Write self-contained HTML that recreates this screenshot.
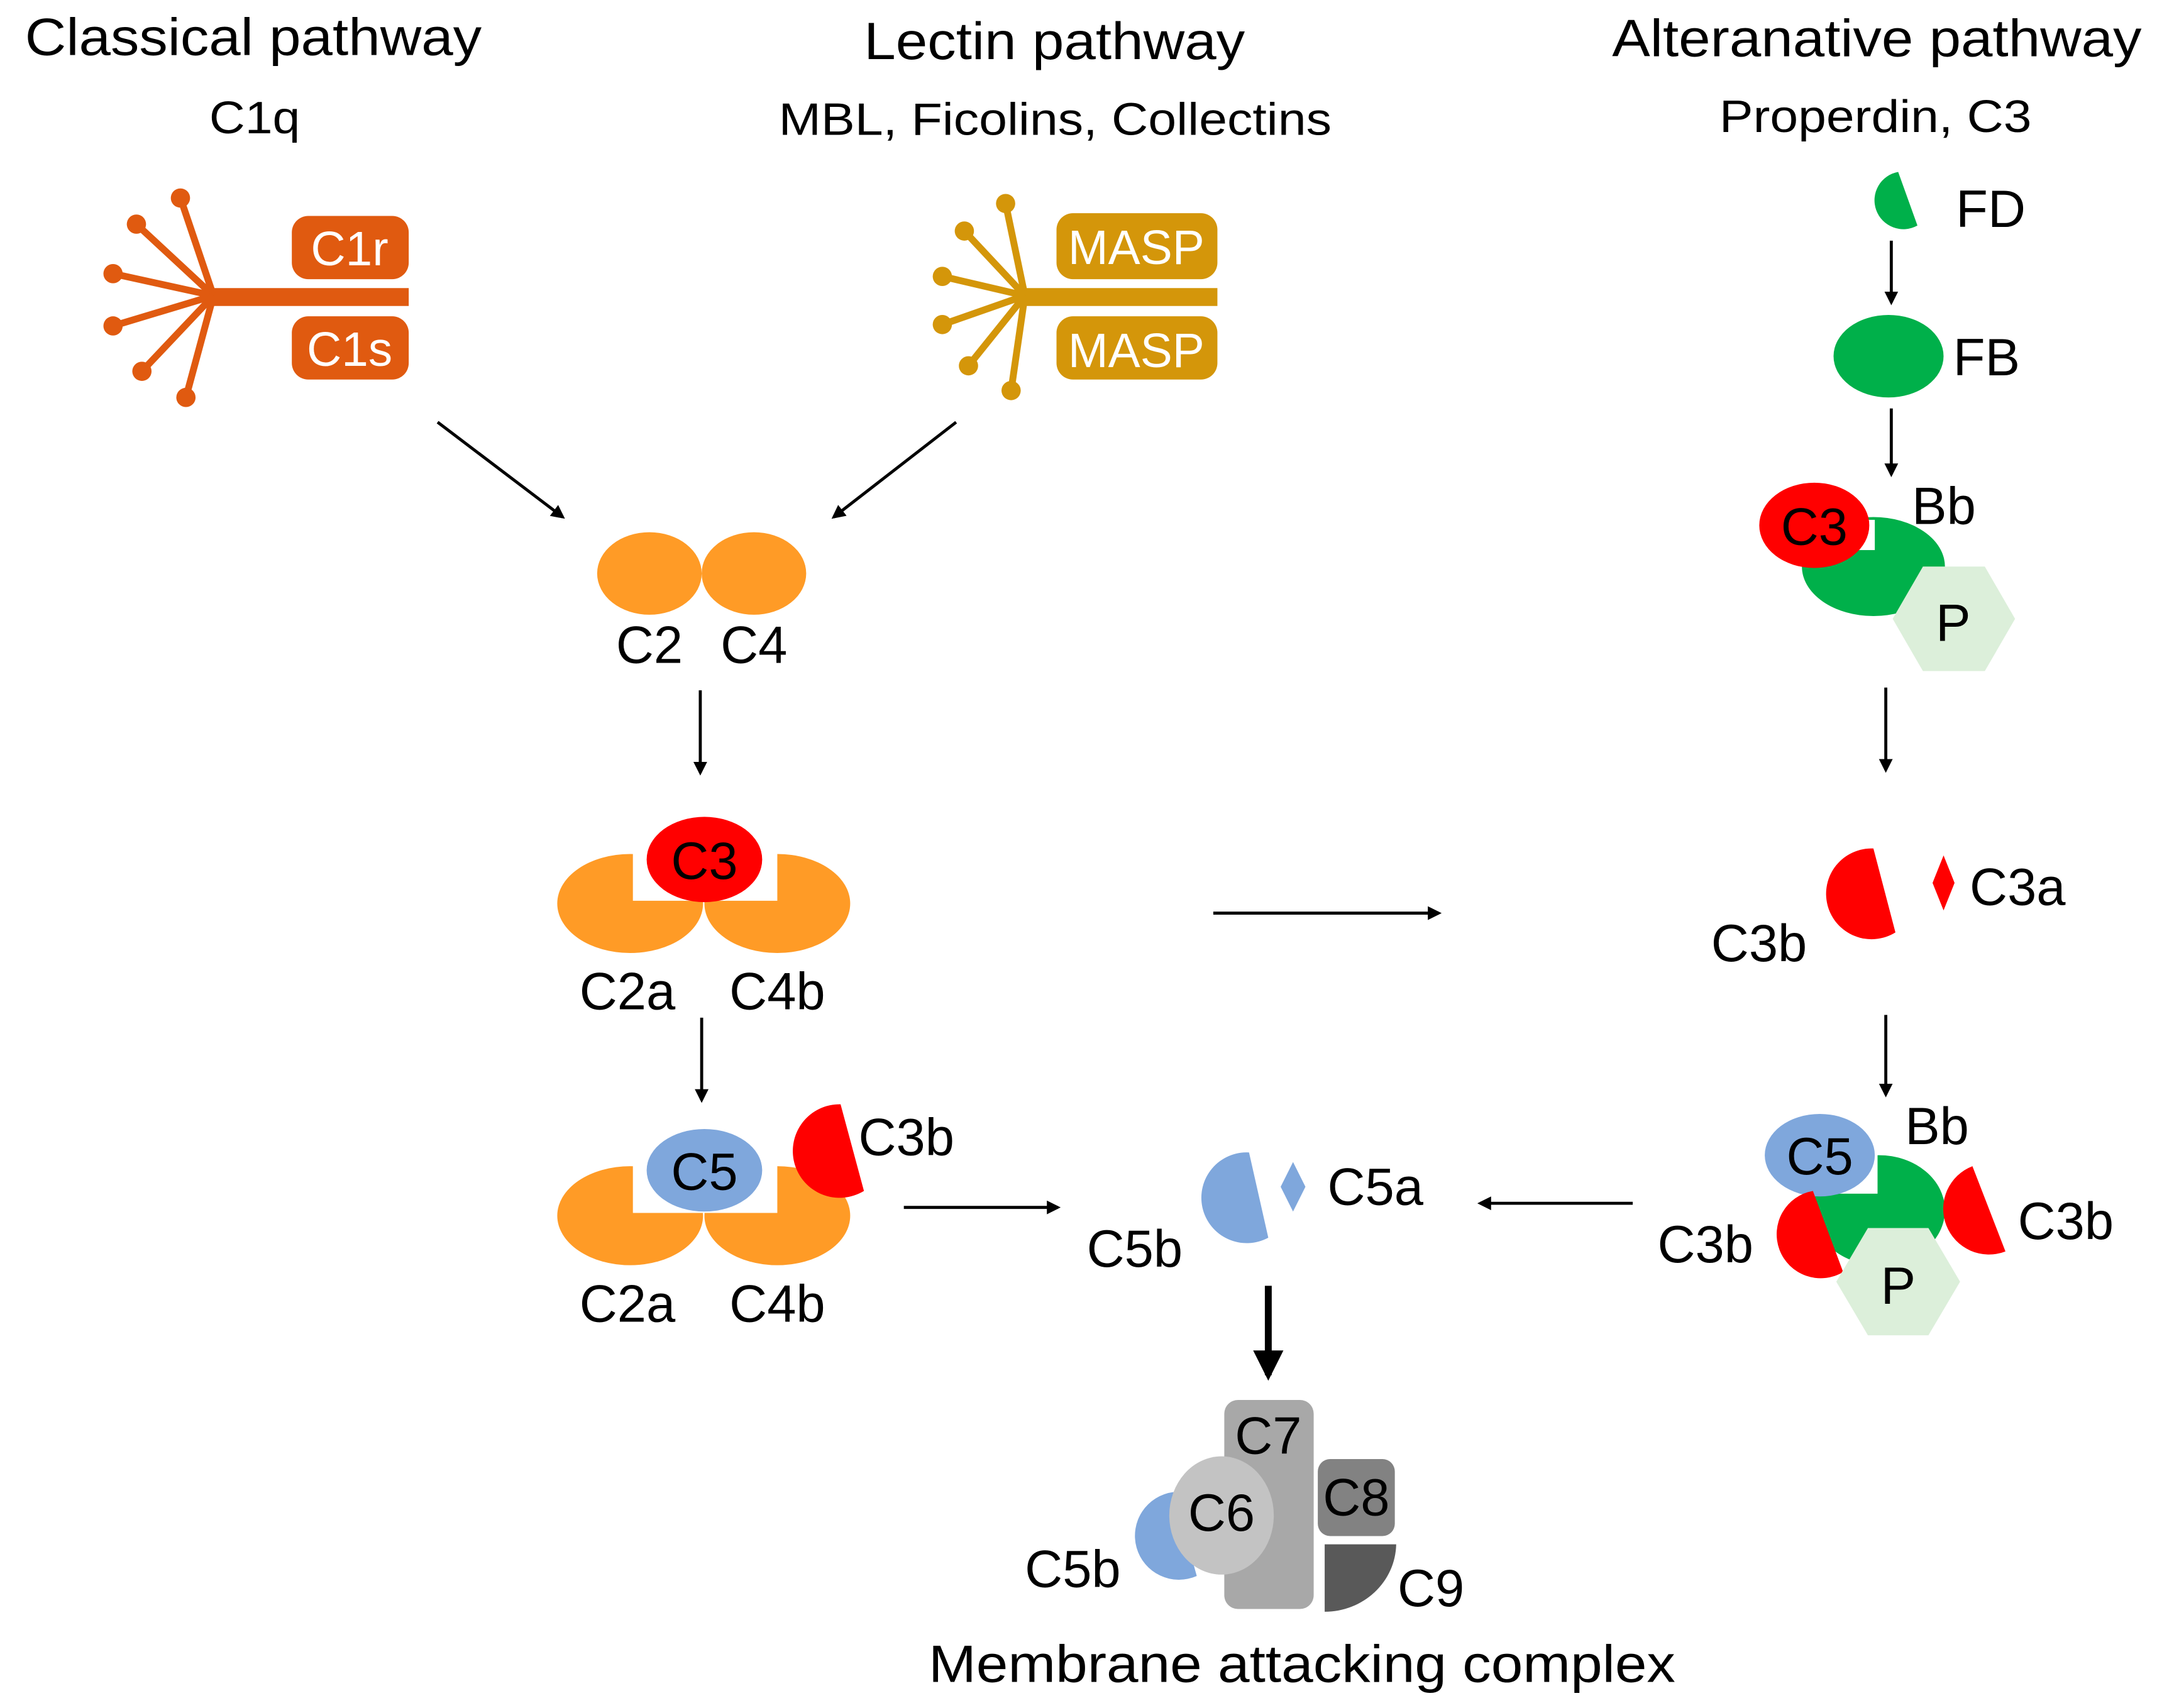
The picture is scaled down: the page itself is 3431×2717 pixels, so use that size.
<!DOCTYPE html>
<html><head><meta charset="utf-8"><style>html,body{margin:0;padding:0;background:#fff}svg{display:block}text{font-family:"Liberation Sans",Arial,sans-serif}</style></head>
<body>
<svg width="3431" height="2717" viewBox="0 0 1568 1242" xmlns="http://www.w3.org/2000/svg">
<defs>
<marker id="ah" markerWidth="10" markerHeight="10" refX="8" refY="5" orient="auto" markerUnits="userSpaceOnUse"><path d="M0,0 L10,5 L0,10 Z" fill="#000"/></marker>
<marker id="ahb" markerWidth="22" markerHeight="22" refX="18" refY="11" orient="auto" markerUnits="userSpaceOnUse"><path d="M0,0 L22,11 L0,22 Z" fill="#000"/></marker>
</defs>
<rect width="1568" height="1242" fill="#fff"/>
<!-- Titles -->
<g fill="#000">
<text x="18" y="40" font-size="38" textLength="332" lengthAdjust="spacingAndGlyphs">Classical pathway</text>
<text x="152" y="97" font-size="33" textLength="66" lengthAdjust="spacingAndGlyphs">C1q</text>
<text x="628" y="43" font-size="38" textLength="277" lengthAdjust="spacingAndGlyphs">Lectin pathway</text>
<text x="566" y="98" font-size="33" textLength="402" lengthAdjust="spacingAndGlyphs">MBL, Ficolins, Collectins</text>
<text x="1172" y="41" font-size="38" textLength="385" lengthAdjust="spacingAndGlyphs">Alteranative pathway</text>
<text x="1250" y="96" font-size="33" textLength="227" lengthAdjust="spacingAndGlyphs">Properdin, C3</text>
</g>
<!-- C1q -->
<g stroke="#E05A10" stroke-width="5" fill="#E05A10">
<line x1="150" y1="216" x2="297" y2="216" stroke-width="13"/>
<line x1="155" y1="215" x2="131" y2="144"/><line x1="155" y1="215" x2="99" y2="163"/><line x1="155" y1="215" x2="82" y2="199"/>
<line x1="155" y1="215" x2="82" y2="237"/><line x1="155" y1="215" x2="103" y2="270"/><line x1="155" y1="215" x2="135" y2="289"/>
<circle cx="131" cy="144" r="7" stroke="none"/><circle cx="99" cy="163" r="7" stroke="none"/><circle cx="82" cy="199" r="7" stroke="none"/>
<circle cx="82" cy="237" r="7" stroke="none"/><circle cx="103" cy="270" r="7" stroke="none"/><circle cx="135" cy="289" r="7" stroke="none"/>
</g>
<rect x="212" y="157" width="85" height="46" rx="12" fill="#E05A10"/>
<rect x="212" y="230" width="85" height="46" rx="12" fill="#E05A10"/>
<text x="254" y="193" font-size="35" fill="#fff" text-anchor="middle">C1r</text>
<text x="254" y="266" font-size="35" fill="#fff" text-anchor="middle">C1s</text>
<!-- Lectin -->
<g stroke="#D4960A" stroke-width="5" fill="#D4960A">
<line x1="740" y1="216" x2="885" y2="216" stroke-width="13"/>
<line x1="745" y1="215" x2="731" y2="148"/><line x1="745" y1="215" x2="701" y2="168"/><line x1="745" y1="215" x2="685" y2="201"/>
<line x1="745" y1="215" x2="685" y2="236"/><line x1="745" y1="215" x2="704" y2="266"/><line x1="745" y1="215" x2="735" y2="284"/>
<circle cx="731" cy="148" r="7" stroke="none"/><circle cx="701" cy="168" r="7" stroke="none"/><circle cx="685" cy="201" r="7" stroke="none"/>
<circle cx="685" cy="236" r="7" stroke="none"/><circle cx="704" cy="266" r="7" stroke="none"/><circle cx="735" cy="284" r="7" stroke="none"/>
</g>
<rect x="768" y="155" width="117" height="48" rx="12" fill="#D4960A"/>
<rect x="768" y="230" width="117" height="46" rx="12" fill="#D4960A"/>
<text x="826" y="192" font-size="35" fill="#fff" text-anchor="middle">MASP</text>
<text x="826" y="267" font-size="35" fill="#fff" text-anchor="middle">MASP</text>
<!-- arrows -->
<g stroke="#000" stroke-width="2.2" marker-end="url(#ah)">
<line x1="318" y1="307" x2="409" y2="376"/>
<line x1="695" y1="307" x2="606" y2="376"/>
<line x1="509" y1="502" x2="509" y2="562"/>
<line x1="510" y1="740" x2="510" y2="800"/>
<line x1="657" y1="878" x2="769" y2="878"/>
<line x1="882" y1="664" x2="1046" y2="664"/>
<line x1="1187" y1="875" x2="1076" y2="875"/>
<line x1="1375" y1="175" x2="1375" y2="220"/>
<line x1="1375" y1="297" x2="1375" y2="345"/>
<line x1="1371" y1="500" x2="1371" y2="560"/>
<line x1="1371" y1="738" x2="1371" y2="796"/>
</g>
<line x1="922" y1="935" x2="922" y2="1000" stroke="#000" stroke-width="5" marker-end="url(#ahb)"/>
<g font-size="38">
<!-- C2 C4 -->
<ellipse cx="472" cy="417" rx="38" ry="30" fill="#FF9B26"/>
<ellipse cx="548" cy="417" rx="38" ry="30" fill="#FF9B26"/>
<text x="472" y="482" text-anchor="middle">C2</text>
<text x="548" y="482" text-anchor="middle">C4</text>
<!-- C3 convertase -->
<ellipse cx="458" cy="657" rx="53" ry="36" fill="#FF9B26"/>
<ellipse cx="565" cy="657" rx="53" ry="36" fill="#FF9B26"/>
<rect x="460" y="615" width="105" height="40" fill="#fff"/>
<ellipse cx="512" cy="625" rx="42" ry="31" fill="#FF0000"/>
<text x="512" y="639" text-anchor="middle">C3</text>
<text x="456" y="734" text-anchor="middle">C2a</text>
<text x="565" y="734" text-anchor="middle">C4b</text>
<!-- C5 convertase -->
<ellipse cx="458" cy="884" rx="53" ry="36" fill="#FF9B26"/>
<ellipse cx="565" cy="884" rx="53" ry="36" fill="#FF9B26"/>
<rect x="460" y="842" width="105" height="40" fill="#fff"/>
<ellipse cx="512" cy="851" rx="42" ry="30" fill="#7FA7DC"/>
<text x="512" y="865" text-anchor="middle">C5</text>
<path d="M611,803 A34,34 0 1 0 628,866 Z" fill="#FF0000"/>
<text x="624" y="840">C3b</text>
<text x="456" y="961" text-anchor="middle">C2a</text>
<text x="565" y="961" text-anchor="middle">C4b</text>
<!-- C5b C5a -->
<path d="M908,838 A33,33 0 1 0 922,900 Z" fill="#7FA7DC"/>
<path d="M940,845 L949,863 L940,881 L931,863 Z" fill="#7FA7DC"/>
<text x="965" y="876">C5a</text>
<text x="790" y="921">C5b</text>
<!-- MAC -->
<rect x="890" y="1018" width="65" height="152" rx="10" fill="#A8A8A8"/>
<path d="M853,1085 A32,32 0 1 0 870,1146 Z" fill="#7FA7DC"/>
<ellipse cx="888" cy="1102" rx="38" ry="43" fill="#C3C3C3"/>
<rect x="958" y="1061" width="56" height="56" rx="9" fill="#828282"/>
<path d="M963,1123 L1015,1123 A52,50 0 0 1 963,1172 Z" fill="#595959"/>
<text x="922" y="1057" text-anchor="middle">C7</text>
<text x="888" y="1113" text-anchor="middle">C6</text>
<text x="986" y="1102" text-anchor="middle">C8</text>
<text x="1016" y="1168">C9</text>
<text x="745" y="1154">C5b</text>
<text x="675" y="1223" textLength="543" lengthAdjust="spacingAndGlyphs">Membrane attacking complex</text>
<!-- Alternative -->
<path d="M1380,125 A21,21 0 1 0 1394,164 Z" fill="#00B04A"/>
<text x="1422" y="165">FD</text>
<ellipse cx="1373" cy="259" rx="40" ry="30" fill="#00B04A"/>
<text x="1420" y="273">FB</text>
<ellipse cx="1362" cy="412" rx="52" ry="36" fill="#00B04A"/>
<rect x="1300" y="378" width="63" height="22" fill="#fff"/>
<ellipse cx="1319" cy="382" rx="40" ry="31" fill="#FF0000"/>
<text x="1319" y="396" text-anchor="middle">C3</text>
<polygon points="1398,412 1443,412 1465,450 1443,488 1398,488 1376,450" fill="#DCEFDA"/>
<text x="1420" y="466" text-anchor="middle">P</text>
<text x="1390" y="381">Bb</text>
<path d="M1362,617 A33,33 0 1 0 1378,678 Z" fill="#FF0000"/>
<path d="M1413,622 L1421,642 L1413,662 L1405,642 Z" fill="#FF0000"/>
<text x="1432" y="658">C3a</text>
<text x="1244" y="699">C3b</text>
<!-- bottom right complex -->
<ellipse cx="1366" cy="880" rx="48" ry="40" fill="#00B04A"/>
<rect x="1320" y="838" width="45" height="30" fill="#fff"/>
<ellipse cx="1323" cy="840" rx="40" ry="30" fill="#7FA7DC"/>
<text x="1323" y="854" text-anchor="middle">C5</text>
<path d="M1318,866 A32,32 0 1 0 1340,925 Z" fill="#FF0000"/>
<path d="M1434,848 A32,32 0 1 0 1458,910 Z" fill="#FF0000"/>
<polygon points="1358,893 1402,893 1425,932 1402,971 1358,971 1335,932" fill="#DCEFDA"/>
<text x="1380" y="948" text-anchor="middle">P</text>
<text x="1385" y="832">Bb</text>
<text x="1205" y="918">C3b</text>
<text x="1467" y="901">C3b</text>
</g>
</svg>
</body></html>
